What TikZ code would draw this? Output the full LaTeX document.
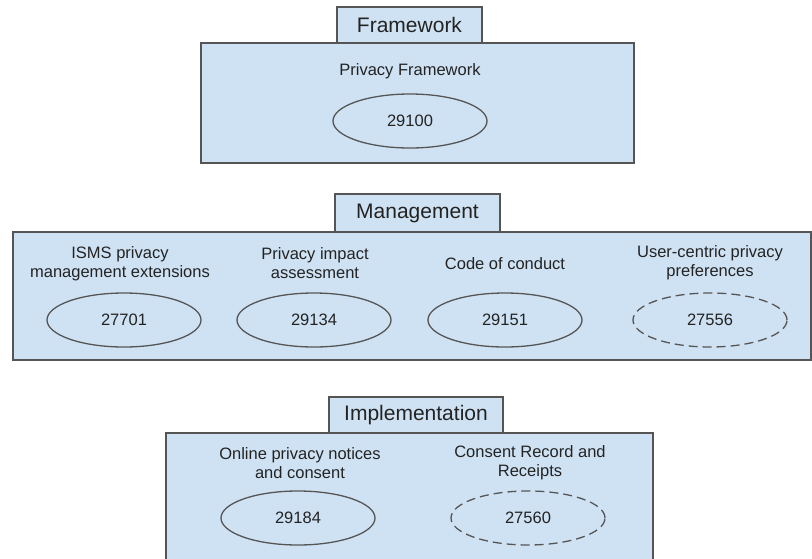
\documentclass[tikz,border=0pt]{standalone}
\usepackage{fontspec}
\setmainfont{Liberation Sans}
\usetikzlibrary{shapes.geometric}

\definecolor{panelblue}{RGB}{207,226,243}
\definecolor{edgegray}{RGB}{85,85,85}
\definecolor{inkgray}{RGB}{35,35,35}

\tikzset{
  panel/.style={draw=edgegray, fill=panelblue, line width=1.4pt},
  tabbox/.style={panel, rectangle, inner sep=0pt, text=inkgray,
    font=\fontsize{21}{24}\selectfont},
  caption/.style={align=center, text=inkgray, inner sep=0pt,
    font=\fontsize{16.5}{19}\selectfont},
  std/.style={ellipse, draw=edgegray, line width=1.3pt, minimum width=154pt,
    minimum height=54pt, inner sep=0pt, text=inkgray,
    font=\fontsize{16.5}{19}\selectfont},
  draft/.style={std, dash pattern=on 9pt off 5pt}
}

\begin{document}
\begin{tikzpicture}[x=1pt,y=-1pt]
  \useasboundingbox (0,0) rectangle (812,558);

  % framework layer
  \draw[panel] (201,43) rectangle (634,163);
  \node[tabbox, minimum width=145pt, minimum height=36pt] (framework) at (409.5,25) {Framework};
  \node[caption] (privfw) at (410,71) {Privacy Framework};
  \node[std] (n29100) at (410,121) {29100};

  % management layer
  \draw[panel] (13,232) rectangle (811,360);
  \node[tabbox, minimum width=165pt, minimum height=38pt] (management) at (417.5,213) {Management};
  \node[caption] (isms) at (120,264) {ISMS privacy\\management extensions};
  \node[caption] (pia) at (315,263) {Privacy impact\\assessment};
  \node[caption] (coc) at (505,264) {Code of conduct};
  \node[caption] (ucpp) at (710,263) {User-centric privacy\\preferences};
  \node[std] (n27701) at (124,320) {27701};
  \node[std] (n29134) at (314,320) {29134};
  \node[std] (n29151) at (505,320) {29151};
  \node[draft] (n27556) at (710,320) {27556};

  % implementation layer
  \draw[panel] (166,433) rectangle (653,566);
  \node[tabbox, minimum width=174pt, minimum height=36pt] (implementation) at (416,415) {Implementation};
  \node[caption] (notices) at (300,463) {Online privacy notices\\and consent};
  \node[caption] (receipts) at (530,463) {Consent Record and\\Receipts};
  \node[std] (n29184) at (298,518) {29184};
  \node[draft] (n27560) at (528,518) {27560};
\end{tikzpicture}
\end{document}
